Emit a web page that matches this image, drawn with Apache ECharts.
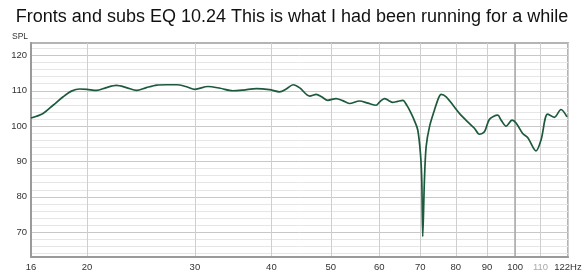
<!DOCTYPE html>
<html><head><meta charset="utf-8">
<script src="https://cdn.jsdelivr.net/npm/echarts@6/dist/echarts.min.js"></script>
<style>html,body{margin:0;padding:0;background:#fff}#c{width:584px;height:275px}</style>
</head><body><div id="c"></div>
<script>
const titleText = 'Fronts and subs EQ 10.24 This is what I had been running for a while';
const freqHz = [16.2,16.95,17.6,18.28,18.86,19.46,20.0,20.72,21.51,22.33,23.19,24.1,25.0,26.0,27.0,28.0,29.0,30.0,31.5,33.0,34.6,36.0,37.8,39.7,41.25,42.3,43.4,44.5,46.2,47.35,48.3,49.45,51.0,52.3,53.65,55.7,57.5,59.3,60.06,61.2,62.2,63.1,64.3,65.55,66.6,67.65,68.5,69.35,70.05,70.4,70.66,71.11,71.57,72.47,73.83,75.0,75.71,77.16,79.59,81.1,83.67,85.81,87.43,89.1,90.79,93.67,94.87,96.67,98.87,100.36,102.89,104.83,108.18,110.24,112.99,115.88,118.83,121.54];
const splDb = [102.3,103.6,105.9,108.3,109.9,110.5,110.4,110.1,110.9,111.5,110.9,110.1,110.9,111.6,111.7,111.7,111.2,110.4,111.2,110.7,110.0,110.2,110.6,110.3,109.7,110.5,111.7,110.8,108.5,109.0,108.3,107.3,107.8,107.2,106.4,107.1,106.5,105.9,106.8,107.8,107.2,106.7,107.0,107.3,105.8,103.6,101.5,98.9,92.3,84.8,68.8,84.8,94.2,99.8,104.5,108.0,109.0,108.3,105.4,103.6,101.2,99.4,97.7,98.4,101.9,103.1,101.7,100.0,101.7,100.9,97.9,96.8,93.0,96.1,103.4,102.5,104.7,102.6];
const xTickHz = [16.2,20,30,40,50,60,70,80,90,100,110,122];
const xTickLabels = ['16','20','30','40','50','60','70','80','90','100','110','122Hz'];
const xMinorLabelHz = [110];
const xDarkLineHz = [100];
const yMajorTicks = [70,80,90,100,110,120];
const yMinorTicks = [64,66,68,72,74,76,78,82,84,86,88,92,94,96,98,102,104,106,108,112,114,116,118,122];
const xMinHz = 16.2, xMaxHz = 122, yMin = 63, yMax = 123.5;

const lg = Math.log10;
const chart = echarts.init(document.getElementById('c'));
const xFmt = v => {
  const hz = Math.pow(10, v);
  let best = 0, d = 1e9;
  xTickHz.forEach((t, i) => { const dd = Math.abs(t - hz); if (dd < d) { d = dd; best = i; } });
  const lab = xTickLabels[best];
  return xMinorLabelHz.includes(xTickHz[best]) ? '{m|' + lab + '}' : lab;
};
const FF = 'Liberation Sans, Arial, sans-serif';
const labelFont = {fontFamily: FF, fontSize: 9.5, color: '#333'};
chart.setOption({
  animation: false,
  backgroundColor: '#fff',
  title: {text: titleText, left: 'center', top: 3,
    textStyle: {fontFamily: FF, fontSize: 18, fontWeight: 'normal', color: '#111'}},
  graphic: [{type: 'text', left: 12, top: 32, style: {text: 'SPL', fontSize: 8.5, fontFamily: FF, fill: '#333'}}],
  grid: {left: 31, right: 16, top: 43, bottom: 18, show: true, borderColor: '#b4b4b4', borderWidth: 2,
    backgroundColor: '#fff', outerBoundsMode: 'none', containLabel: false},
  xAxis: [
    {type: 'value', min: lg(xMinHz), max: lg(xMaxHz),
      axisLine: {show: true, lineStyle: {color: '#9a9a9a', width: 2}},
      axisTick: {show: false, customValues: xTickHz.map(lg)},
      axisLabel: Object.assign({customValues: xTickHz.map(lg), formatter: xFmt, margin: 5,
        rich: {m: {color: '#aaa', fontSize: 9.5, fontFamily: FF}}}, labelFont),
      splitLine: {show: true, lineStyle: {color: '#cfcfcf', width: 1}}},
    {type: 'value', min: lg(xMinHz), max: lg(xMaxHz), position: 'bottom',
      axisLine: {show: false}, axisLabel: {show: false},
      axisTick: {show: false, customValues: xDarkLineHz.map(lg)},
      splitLine: {show: true, lineStyle: {color: '#a8a8a8', width: 1.5}}}
  ],
  yAxis: [
    {type: 'value', min: yMin, max: yMax, position: 'left',
      axisLine: {show: false}, axisLabel: {show: false},
      axisTick: {show: false, customValues: yMinorTicks},
      splitLine: {show: true, lineStyle: {color: '#e6e6e6', width: 1}}},
    {type: 'value', min: yMin, max: yMax, position: 'left',
      axisLine: {show: true, lineStyle: {color: '#9a9a9a', width: 2}},
      axisTick: {show: false, customValues: yMajorTicks},
      axisLabel: Object.assign({customValues: yMajorTicks, margin: 4}, labelFont),
      splitLine: {show: true, lineStyle: {color: '#c8c8c8', width: 1}}}
  ],
  series: [{
    type: 'line', yAxisIndex: 1, xAxisIndex: 0, showSymbol: false, smooth: 0.3, z: 5,
    data: freqHz.map((f, i) => [lg(f), splDb[i]]),
    lineStyle: {color: '#1c5a3b', width: 1.7}
  }]
});
</script></body></html>
